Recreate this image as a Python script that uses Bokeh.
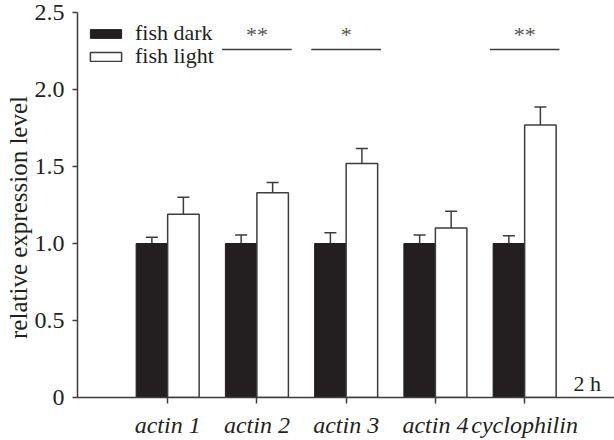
from bokeh.plotting import figure
from bokeh.models import Range1d, FixedTicker, Label, ColumnDataSource, Whisker, TeeHead, Legend, LegendItem
from bokeh.embed import file_html
from bokeh.resources import INLINE

# ---- data ----
categories = ["actin 1", "actin 2", "actin 3", "actin 4", "cyclophilin"]
dark_values = [1.0, 1.0, 1.0, 1.0, 1.0]
dark_errors = [0.04, 0.055, 0.07, 0.055, 0.05]
light_values = [1.19, 1.33, 1.52, 1.10, 1.77]
light_errors = [0.11, 0.066, 0.097, 0.11, 0.117]
sig_labels = ["", "**", "*", "", "**"]
sig_level = 2.26
y_ticks = [0, 0.5, 1.0, 1.5, 2.0, 2.5]
y_tick_labels = ["0", "0.5", "1.0", "1.5", "2.0", "2.5"]
series_names = ["fish dark", "fish light"]
time_label = "2 h"
y_label = "relative expression level"

INK = "#231f20"
LINE = "#3d3d3d"
FONT = "Liberation Serif"

W, H = 614, 440
BL, BT, BB, BR = 77, 12, 43, 0
px_per_unit = 89.25
x0 = -0.01
x1 = x0 + (W - BL - BR) / px_per_unit
frame_h = H - BT - BB
y_px = frame_h / 2.5

p = figure(width=W, height=H, output_backend="svg", toolbar_location=None,
           x_range=Range1d(x0, x1), y_range=Range1d(0, 2.5),
           min_border_left=BL, min_border_right=BR, min_border_top=BT, min_border_bottom=BB)
p.outline_line_color = None
p.xgrid.visible = False
p.ygrid.visible = False
p.background_fill_color = "white"
p.border_fill_color = "white"

xs = [i + 1 for i in range(len(categories))]
bw = 0.353
dark_x = [x - bw / 2 for x in xs]
light_x = [x + bw / 2 for x in xs]

src_d = ColumnDataSource(dict(x=dark_x, top=dark_values,
                              lo=[v - e for v, e in zip(dark_values, dark_errors)],
                              hi=[v + e for v, e in zip(dark_values, dark_errors)]))
src_l = ColumnDataSource(dict(x=light_x, top=light_values,
                              lo=[v - e for v, e in zip(light_values, light_errors)],
                              hi=[v + e for v, e in zip(light_values, light_errors)]))

r_d = p.vbar(x="x", top="top", bottom=0, width=bw, source=src_d, fill_color=INK,
             line_color=INK, line_width=1)
r_l = p.vbar(x="x", top="top", bottom=0, width=bw, source=src_l, fill_color="white",
             line_color=LINE, line_width=1.5)

for src in (src_d, src_l):
    w = Whisker(base="x", lower="lo", upper="hi", source=src,
                line_color=LINE, line_width=1.5,
                upper_head=TeeHead(size=12, line_color=LINE, line_width=1.5),
                lower_head=TeeHead(size=12, line_color=LINE, line_width=1.5))
    p.add_layout(w)

# significance lines and stars
sig_x = [x for x, s in zip(xs, sig_labels) if s]
sig_t = [s for s in sig_labels if s]
half = 0.39
p.segment(x0=[x - half for x in sig_x], x1=[x + half for x in sig_x],
          y0=[sig_level] * len(sig_x), y1=[sig_level] * len(sig_x),
          line_color=LINE, line_width=1.5)
for x, s in zip(sig_x, sig_t):
    p.add_layout(Label(x=x, y=sig_level + 0.10, text=s, text_align="center",
                       text_baseline="alphabetic", text_font=FONT,
                       text_font_size="22px", text_color="#555555"))

# axes
p.xaxis.ticker = FixedTicker(ticks=xs)
p.xaxis.major_label_overrides = {x: c for x, c in zip(xs, categories)}
p.xaxis.major_label_text_font_style = "italic"
p.yaxis.ticker = FixedTicker(ticks=y_ticks)
p.yaxis.major_label_overrides = {t: l for t, l in zip(y_ticks, y_tick_labels)}
for ax in (p.xaxis, p.yaxis):
    ax.major_label_text_font = FONT
    ax.major_label_text_font_size = "24px"
    ax.major_label_text_color = INK
    ax.axis_line_color = LINE
    ax.axis_line_width = 1.5
    ax.major_tick_line_color = LINE
    ax.major_tick_line_width = 1.5
    ax.major_tick_in = 0
    ax.minor_tick_line_color = None
p.xaxis.major_tick_out = 6
p.yaxis.major_tick_out = 5
p.xaxis.major_label_standoff = 8
p.yaxis.major_label_standoff = 8

# y axis title; trailing no-break spaces shift it slightly down along the axis
p.yaxis.axis_label = y_label + "\u00a0" * 4
p.yaxis.axis_label_text_font = FONT
p.yaxis.axis_label_text_font_style = "normal"
p.yaxis.axis_label_text_font_size = "25px"
p.yaxis.axis_label_text_color = INK
p.yaxis.axis_label_text_line_height = 0.9
p.yaxis.axis_label_standoff = 0

# time label
p.add_layout(Label(x=x0 + (573 - BL) / px_per_unit, y=(H - BB - 383) / y_px, text=time_label,
                   text_align="left", text_baseline="middle",
                   text_font=FONT, text_font_size="22px", text_color=INK))

# legend: one legend per entry so the rows can sit close together
row_h = 25
for i, (name, r) in enumerate(zip(series_names, [r_d, r_l])):
    leg = Legend(items=[LegendItem(label=name, renderers=[r])])
    leg.location = (9, frame_h - 9 - row_h - 23 * i)
    leg.margin = 0
    leg.padding = 0
    leg.spacing = 0
    leg.border_line_color = None
    leg.background_fill_alpha = 0
    leg.glyph_width = 39
    leg.glyph_height = 11
    leg.label_height = 21
    leg.label_standoff = 10
    leg.label_text_font = FONT
    leg.label_text_font_size = "22px"
    leg.label_text_color = INK
    p.add_layout(leg, "center")

open("out.html", "w").write(file_html(p, INLINE))
